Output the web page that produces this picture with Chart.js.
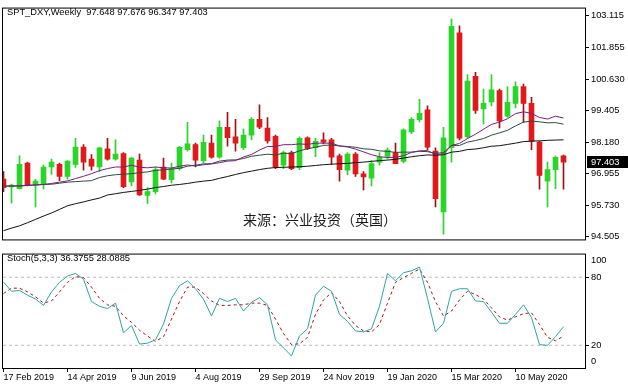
<!DOCTYPE html>
<html><head><meta charset="utf-8">
<script src="https://cdn.jsdelivr.net/npm/chart.js@4.4.1/dist/chart.umd.min.js"></script>
<style>
html,body{margin:0;padding:0;background:#fff;}
#wrap{position:relative;width:628px;height:387px;overflow:hidden;background:#fff;font-family:"Liberation Sans",Arial,sans-serif;}
canvas{position:absolute;left:0;}
#main{top:0;width:628px;height:247px;}
#stoch{top:247px;width:628px;height:140px;}
.lbl{position:absolute;white-space:pre;color:#000;font-size:9.3px;line-height:10px;font-family:"Liberation Sans",Arial,sans-serif;}
#src{position:absolute;left:243px;top:210px;font-family:"Noto Sans CJK SC",sans-serif;font-size:14px;line-height:18px;color:#1a1a1a;white-space:nowrap;}
</style></head><body>
<div id="wrap">
<canvas id="main" width="628" height="247"></canvas>
<canvas id="stoch" width="628" height="140"></canvas>
<div class="lbl" style="left:7px;top:7px;">SPT_DXY,Weekly  97.648 97.676 96.347 97.403</div>
<div class="lbl" style="left:7px;top:253px;">Stoch(5,3,3) 36.3755 28.0885</div>
<div id="src">来源：兴业投资（英国）</div>
</div>
<script>
// ---- data (weekly bars, 17 Feb 2019 .. 21 Jun 2020) ----
const dateLabels = ['17 Feb 2019','14 Apr 2019','9 Jun 2019','4 Aug 2019','29 Sep 2019','24 Nov 2019','19 Jan 2020','15 Mar 2020','10 May 2020'];
const dateLabelBars = [0,8,16,24,32,40,48,56,64];
const priceTicks = [94.505,95.730,96.955,98.180,99.405,100.630,101.855,103.115];
const stochTicks = [0,20,80,100];

const open  = [96.74,96.43,96.37,97.36,96.51,96.53,97.21,97.31,96.84,97.31,97.99,97.52,97.21,97.92,97.52,97.73,96.63,97.48,96.10,96.25,
               97.21,96.72,97.15,97.89,98.08,97.46,98.14,97.59,98.76,98.39,97.96,98.45,99.07,98.73,98.41,97.28,97.77,97.18,98.35,97.96,
               98.27,98.27,97.65,97.09,97.71,96.94,96.78,97.40,97.62,97.77,97.43,98.58,99.05,99.44,97.83,95.46,97.96,102.44,98.39,100.74,
               99.47,99.75,100.19,99.19,99.69,100.34,99.69,98.18,96.66,97.11,97.648];
const high  = [97.03,96.55,97.65,97.40,96.73,97.29,97.52,97.36,97.46,98.33,98.08,97.69,97.98,98.33,98.27,97.77,97.59,97.71,96.41,97.21,
               97.56,97.36,98.02,98.95,98.14,98.45,98.45,99.01,99.34,99.07,98.70,99.14,99.63,99.14,98.45,97.83,97.83,98.39,98.39,98.33,
               98.54,98.33,97.71,97.77,97.77,97.03,97.46,97.77,97.96,98.14,98.70,99.14,99.85,99.59,97.96,98.76,102.97,102.71,100.81,100.90,
               100.25,100.81,100.25,100.34,100.53,100.44,99.92,98.21,97.40,97.65,97.676];
const low   = [96.25,95.80,96.36,96.47,95.66,96.36,96.92,96.68,96.74,97.19,97.09,97.09,97.03,97.48,97.48,96.41,96.47,96.10,95.79,96.16,
               96.72,96.59,97.09,97.83,97.21,97.36,97.55,97.55,98.02,97.83,97.89,98.27,98.70,98.14,97.15,97.15,97.11,97.11,97.89,97.61,
               98.11,97.31,96.66,96.91,96.84,96.32,96.47,97.28,97.52,97.34,97.37,98.51,98.97,97.89,95.66,94.59,97.40,98.27,98.33,99.30,
               98.89,99.59,98.73,99.14,99.51,98.95,97.89,96.35,95.66,96.37,96.347];
const close = [96.41,96.51,97.31,96.50,96.66,97.21,97.40,96.84,97.44,97.99,97.40,97.24,97.96,97.52,97.71,96.44,97.56,96.12,96.25,97.11,
               96.74,97.15,97.98,98.11,97.48,98.17,97.59,98.76,98.35,98.14,98.45,99.07,98.76,98.23,97.21,97.77,97.15,98.33,97.93,98.21,
               98.18,97.59,97.11,97.71,96.94,96.82,97.34,97.59,97.87,97.34,98.66,99.07,99.30,97.98,95.98,98.35,102.69,98.33,100.56,99.41,
               99.69,100.22,99.01,99.73,100.34,99.69,98.21,96.88,97.11,97.59,97.403];

const maShort = [96.47,96.47,96.48,96.50,96.51,96.53,96.57,96.62,96.67,96.76,96.85,96.95,97.07,97.15,97.21,97.21,97.28,97.20,97.18,97.21,
                 97.18,97.17,97.24,97.29,97.25,97.30,97.33,97.38,97.44,97.46,97.60,97.70,97.87,98.01,98.01,98.08,98.08,98.11,98.09,98.14,
                 98.14,98.14,98.03,97.99,97.91,97.80,97.69,97.61,97.58,97.59,97.65,97.78,97.84,97.85,97.70,97.71,98.05,98.13,98.32,98.49,
                 98.68,98.87,98.96,99.09,99.29,99.36,99.30,99.14,99.08,99.19,99.12];
const maMid   = [96.47,96.47,96.47,96.49,96.51,96.53,96.54,96.58,96.62,96.64,96.66,96.68,96.80,96.87,96.91,96.93,96.95,96.99,97.02,97.08,
                 97.10,97.13,97.16,97.24,97.28,97.33,97.34,97.44,97.48,97.49,97.54,97.63,97.67,97.71,97.68,97.75,97.73,97.84,97.92,97.98,
                 98.05,98.07,98.03,98.01,97.98,97.92,97.90,97.84,97.82,97.78,97.79,97.79,97.82,97.81,97.74,97.77,98.05,98.05,98.18,98.24,
                 98.32,98.45,98.54,98.64,98.81,98.96,99.00,98.97,98.93,98.94,98.88];
const maLong  = [94.73,94.83,94.92,95.04,95.17,95.30,95.42,95.56,95.70,95.78,95.85,95.93,96.00,96.12,96.17,96.22,96.26,96.30,96.35,96.41,
                 96.45,96.50,96.53,96.57,96.62,96.66,96.69,96.77,96.84,96.92,96.99,97.05,97.11,97.16,97.19,97.20,97.21,97.22,97.24,97.27,
                 97.30,97.32,97.34,97.35,97.38,97.40,97.43,97.46,97.48,97.51,97.56,97.61,97.65,97.68,97.67,97.69,97.79,97.82,97.89,97.91,
                 97.96,98.02,98.04,98.09,98.14,98.20,98.22,98.23,98.25,98.26,98.27];

const stochK = [75.8,67.6,68.4,64.2,60.8,55.2,67.1,75.5,81.1,83.4,78.3,58.6,54.4,52.4,57.2,31.0,37.5,21.1,21.9,24.8,
                38.8,61.4,72.6,76.9,69.9,60.6,45.9,61.4,58.6,61.4,50.2,58.0,62.0,55.7,24.8,17.7,10.7,28.2,34.6,64.2,
                72.1,67.6,47.3,41.1,32.7,31.8,34.6,54.4,83.4,76.9,84.0,85.7,89.0,61.4,31.8,39.4,67.6,69.9,69.9,59.1,
                58.6,49.3,39.4,39.4,47.3,55.7,44.5,20.6,20.0,27.6,36.38];
const stochD = [65.6,70.4,70.4,67.1,62.8,57.2,59.1,67.1,75.5,80.6,79.7,71.3,61.4,55.7,54.4,45.9,40.3,33.3,28.2,23.4,
                27.6,43.1,58.6,71.3,71.3,65.6,59.1,55.2,55.2,55.7,55.7,57.2,57.2,55.2,43.1,30.4,20.6,21.4,27.0,47.3,
                60.0,66.5,58.6,45.9,37.5,32.7,31.8,38.3,57.2,75.5,79.7,83.4,87.3,75.5,58.6,45.9,50.2,60.0,67.6,64.8,
                60.8,53.0,45.1,42.2,45.1,47.9,48.7,38.3,27.0,24.0,28.09];

// ---- drawing ----
const X_MIN = -0.0625, X_MAX = 72.6875;
const FONT = '"Liberation Sans", Arial, sans-serif';
Chart.defaults.font.family = FONT;
Chart.defaults.font.size = 9;
Chart.defaults.color = '#000';
const GREEN = '#2ad52a', RED = '#e0191c', WICK_RED = '#a31212';
const idx = close.map((_, i) => i);
const isUp = idx.map(i => close[i] >= open[i]);
const pts = arr => arr.map((v, i) => ({x: i, y: v}));

function framePlugin(topOff, botOff){
  return {id:'frame', afterDraw(chart){
    const a = chart.chartArea, c = chart.ctx;
    c.save(); c.strokeStyle = '#000'; c.lineWidth = 1;
    c.strokeRect(a.left - 0.5, a.top + topOff, a.right - a.left + 1, a.bottom - a.top + botOff - topOff);
    c.restore();
  }};
}

const pricePlugin = {id:'pricebox', afterDraw(chart){
  const y = Math.round(chart.scales.y.getPixelForValue(close[close.length-1]));
  const c = chart.ctx; c.save();
  c.fillStyle = '#000'; c.fillRect(587, y - 6, 41, 12);
  c.fillStyle = '#fff'; c.font = '9.3px ' + FONT; c.textBaseline = 'middle';
  c.fillText(close[close.length-1].toFixed(3), 591, y + 0.5);
  c.restore();
}};

new Chart(document.getElementById('main'), {
  type: 'bar',
  data: {datasets: [
    {type:'line', data: pts(maShort), borderColor:'#7a1f7a', borderWidth:1, pointRadius:0, tension:0, order:1},
    {type:'line', data: pts(maMid),   borderColor:'#2e4a3e', borderWidth:1, pointRadius:0, tension:0, order:2},
    {type:'line', data: pts(maLong),  borderColor:'#111111', borderWidth:1, pointRadius:0, tension:0, order:3},
    {type:'bar', data: idx.map(i => ({x:i, y:[low[i], high[i]]})),
      backgroundColor: idx.map(i => isUp[i] ? GREEN : WICK_RED), barThickness:1, grouped:false, borderWidth:0, order:6},
    {type:'bar', data: idx.map(i => ({x:i, y:[open[i], close[i]]})),
      backgroundColor: idx.map(i => isUp[i] ? GREEN : RED), barThickness:5, grouped:false, borderWidth:0, minBarLength:1, order:5}
  ]},
  options: {
    responsive:false, devicePixelRatio:1, animation:false,
    layout:{padding:{left:3, top:3, right:0, bottom:1}},
    plugins:{legend:{display:false}, tooltip:{enabled:false}},
    scales:{
      x:{type:'linear', display:false, min:X_MIN, max:X_MAX, offset:false},
      y:{type:'linear', position:'right', min:94.39, max:103.42,
         afterFit: s => { s.width = 43; },
         afterBuildTicks: s => { s.ticks = priceTicks.map(v => ({value:v})); },
         border:{display:false},
         grid:{display:true, drawOnChartArea:false, drawTicks:true, tickLength:4, color:'#000'},
         ticks:{padding:2, callback: v => Number(v).toFixed(3), font:{size:9.3}}}
    }
  },
  plugins:[framePlugin(0.5, 0.5), pricePlugin]
});

const stochLabelPlugin = {id:'stochlbl', afterDraw(chart){
  const s = chart.scales.y, c = chart.ctx; c.save();
  c.fillStyle = '#000'; c.font = '9.3px ' + FONT; c.textBaseline = 'middle';
  c.fillText('100', 591, s.getPixelForValue(100) + 6);
  c.fillText('0', 591, s.getPixelForValue(0) - 7);
  c.restore();
}};

new Chart(document.getElementById('stoch'), {
  type: 'line',
  data: {datasets: [
    {data: [{x:X_MIN,y:80},{x:X_MAX,y:80}], borderColor:'#bdbdbd', borderWidth:1, borderDash:[3,3], pointRadius:0, order:5},
    {data: [{x:X_MIN,y:20},{x:X_MAX,y:20}], borderColor:'#bdbdbd', borderWidth:1, borderDash:[3,3], pointRadius:0, order:5},
    {data: pts(stochD), borderColor:'#a01818', borderWidth:1, borderDash:[3,3], pointRadius:0, tension:0, order:2},
    {data: pts(stochK), borderColor:'#2ea5a5', borderWidth:1, pointRadius:0, tension:0, order:1}
  ]},
  options: {
    responsive:false, devicePixelRatio:1, animation:false,
    layout:{padding:{left:3, top:2, right:0, bottom:0}},
    plugins:{legend:{display:false}, tooltip:{enabled:false}},
    scales:{
      x:{type:'linear', min:X_MIN, max:X_MAX, offset:false,
         afterFit: s => { s.height = 19; },
         afterBuildTicks: s => { s.ticks = dateLabelBars.map(v => ({value:v})); },
         border:{display:false},
         grid:{display:true, drawOnChartArea:false, drawTicks:true, tickLength:4, color:'#000'},
         ticks:{autoSkip:false, maxRotation:0, align:'start', padding:0,
                callback: (v) => { const k = dateLabelBars.indexOf(Math.round(v)); return k >= 0 ? dateLabels[k] : ''; }}},
      y:{type:'linear', position:'right', min:0, max:100,
         afterFit: s => { s.width = 43; },
         afterBuildTicks: s => { s.ticks = stochTicks.map(v => ({value:v})); },
         border:{display:false},
         grid:{display:true, drawOnChartArea:false, drawTicks:true, tickLength:4, color: ctx => (ctx.tick && (ctx.tick.value === 20 || ctx.tick.value === 80)) ? '#000' : 'rgba(0,0,0,0)'},
         ticks:{padding:2, font:{size:9.3}, callback: v => (v === 20 || v === 80) ? String(v) : ''}}
    }
  },
  plugins:[framePlugin(-0.5, 0.5), stochLabelPlugin]
});
</script>
</body></html>
